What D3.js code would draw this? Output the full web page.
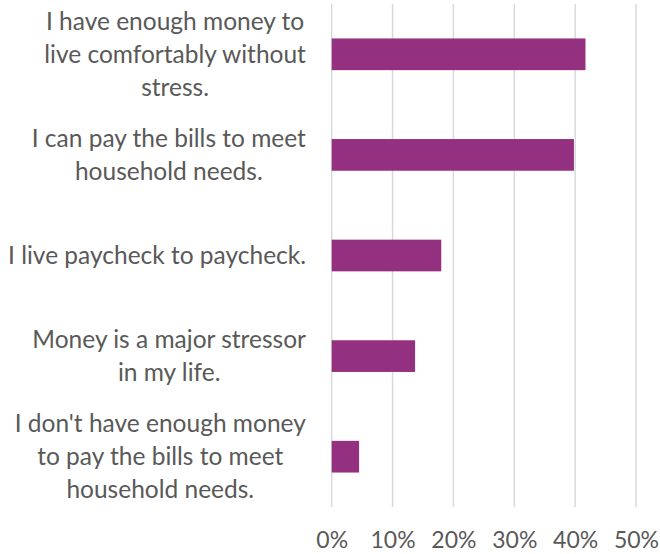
<!DOCTYPE html>
<html>
<head>
<meta charset="utf-8">
<script src="https://cdn.jsdelivr.net/npm/d3@7"></script>
<style>
  html, body { margin: 0; padding: 0; background: #fff; }
  svg { display: block; }
  text { font-family: Lato, "Open Sans", sans-serif; fill: #595959; }
</style>
</head>
<body>
<svg id="chart" width="660" height="554"></svg>
<script>
// Survey answers (each label split into its display lines) and shares of respondents
const categories = [
  ["I have enough money to", "live comfortably without", "stress."],
  ["I can pay the bills to meet", "household needs."],
  ["I live paycheck to paycheck."],
  ["Money is a major stressor", "in my life."],
  ["I don't have enough money", "to pay the bills to meet", "household needs."]
];
const values = [0.417, 0.398, 0.180, 0.137, 0.045];
const tickValues = [0, 0.1, 0.2, 0.3, 0.4, 0.5];

const svg = d3.select("#chart");
const margin = { top: 4, right: 24, bottom: 47, left: 331.7 };
const width = 660, height = 554;

const x = d3.scaleLinear()
  .domain([0, 0.5])
  .range([margin.left, width - margin.right]);

const y = d3.scaleBand()
  .domain(d3.range(categories.length))
  .range([margin.top, height - margin.bottom])
  .paddingInner(0.685)
  .paddingOuter(0.3425);

// Vertical gridlines
svg.append("g")
  .selectAll("line")
  .data(tickValues)
  .join("line")
  .attr("x1", d => x(d)).attr("x2", d => x(d))
  .attr("y1", margin.top).attr("y2", height - margin.bottom)
  .attr("stroke", "#d9d9d9")
  .attr("stroke-width", 1.5);

// Bars
svg.append("g")
  .selectAll("rect")
  .data(values)
  .join("rect")
  .attr("x", x(0))
  .attr("y", (d, i) => y(i))
  .attr("width", d => x(d) - x(0))
  .attr("height", y.bandwidth())
  .attr("fill", "#93307f");

// X axis tick labels
const xAxis = d3.axisBottom(x)
  .tickValues(tickValues)
  .tickFormat(d3.format(".0%"))
  .tickSize(0)
  .tickPadding(0);

const gx = svg.append("g")
  .attr("transform", `translate(0,${height - margin.bottom})`)
  .call(xAxis);
gx.select(".domain").remove();
gx.selectAll("text")
  .attr("dy", null)
  .attr("y", 41)
  .style("font-size", "23px")
  .style("fill", "#595959")
  .style("font-family", "Lato, 'Open Sans', sans-serif");

// Category labels, right aligned and centred on each band
const lineH = 33;
const labels = svg.append("g");
categories.forEach((lines, i) => {
  const cy = y(i) + y.bandwidth() / 2;
  const t = labels.append("text")
    .attr("text-anchor", "middle")
    .style("font-size", "24.5px");
  lines.forEach((ln, j) => {
    t.append("tspan")
      .attr("x", 0)
      .attr("y", cy + (j - (lines.length - 1) / 2) * lineH + 8.5)
      .text(ln);
  });
  // keep the block's right edge at a fixed offset from the axis
  const w = t.node().getBBox().width;
  t.attr("transform", `translate(${306 - w / 2},0)`);
});
</script>
</body>
</html>
